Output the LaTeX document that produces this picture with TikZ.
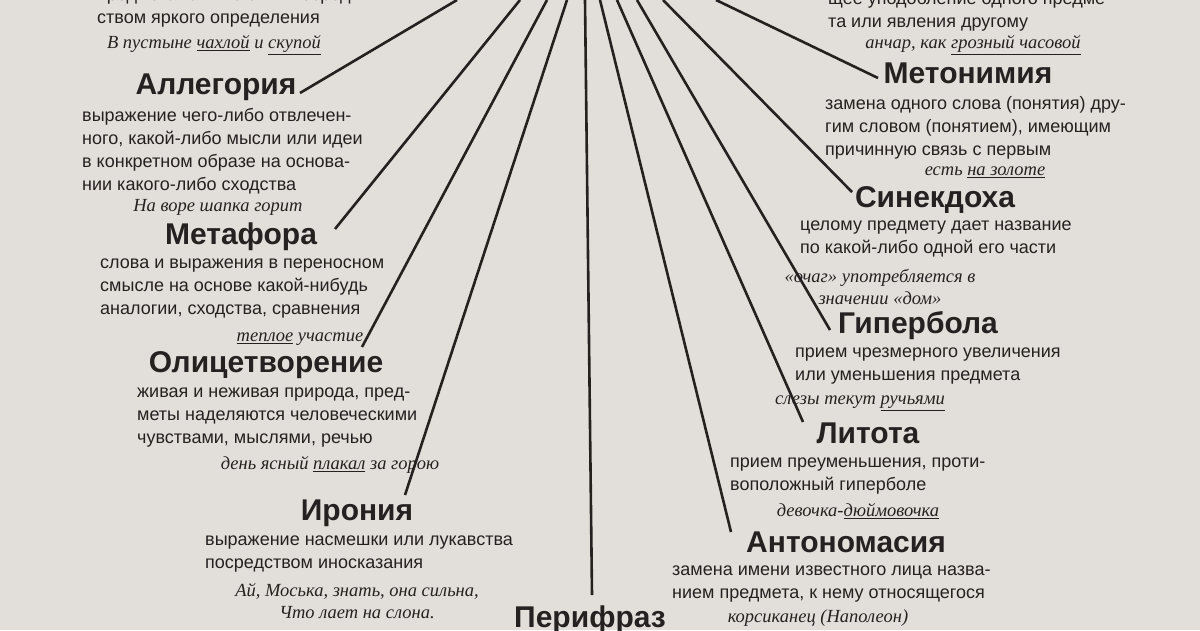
\documentclass[tikz,border=0pt]{standalone}
\usepackage{fontspec}
\setmainfont{Liberation Sans}
\newfontfamily\exfont{Liberation Serif}
\definecolor{paper}{RGB}{226,223,219}
\definecolor{ink}{RGB}{38,33,33}
\begin{document}
\begin{tikzpicture}[x=1pt,y=-1pt,
  ttl/.style={font=\fontsize{30}{30}\selectfont\bfseries,text=ink,inner sep=0},
  dsc/.style={font=\fontsize{18}{23}\selectfont,text=ink,anchor=north west,align=left,inner sep=0},
  ex/.style={font=\exfont\itshape\fontsize{18.5}{22}\selectfont,text=ink,inner sep=0,align=center},
  ray/.style={draw=ink,line width=2.6pt}]
\fill[paper] (0,0) rectangle (1200,630);
\useasboundingbox (0,0) rectangle (1200,630);
% top partial texts
\node[dsc] (epd) at (97,-9) {предмета или явления посред-\\ством яркого определения};
\node[ex] (epx) at (214,45) {В пустыне \underline{чахлой} и \underline{скупой}};
\node[dsc] (srd) at (828,-9) {щее уподобление одного предме-\\та или явления другому};
\node[ex] (srx) at (973,45) {анчар, как \underline{грозный часовой}};
% left column
\node[ttl] (al) at (216,87) {Аллегория};
\node[dsc] (ald) at (82,108) {выражение чего-либо отвлечен-\\ного, какой-либо мысли или идеи\\в конкретном образе на основа-\\нии какого-либо сходства};
\node[ex] (alx) at (218,207) {На воре шапка горит};
\node[ttl] (mf) at (241,237) {Метафора};
\node[dsc] (mfd) at (100,259) {слова и выражения в переносном\\смысле на основе какой-нибудь\\аналогии, сходства, сравнения};
\node[ex] (mfx) at (300,339) {\underline{теплое} участие};
\node[ttl] (ol) at (266,365) {Олицетворение};
\node[dsc] (old) at (137,388) {живая и неживая природа, пред-\\меты наделяются человеческими\\чувствами, мыслями, речью};
\node[ex] (olx) at (330,465) {день ясный \underline{плакал} за горою};
\node[ttl] (ir) at (357,513) {Ирония};
\node[dsc] (ird) at (205,536) {выражение насмешки или лукавства\\посредством иносказания};
\node[ex] (irx) at (357,601) {Ай, Моська, знать, она сильна,\\Что лает на слона.};
\node[ttl] (pf) at (590,620) {Перифраз};
% right column
\node[ttl] (mt) at (968,73) {Метонимия};
\node[dsc] (mtd) at (825,96) {замена одного слова (понятия) дру-\\гим словом (понятием), имеющим\\причинную связь с первым};
\node[ex] (mtx) at (985,172) {есть \underline{на золоте}};
\node[ttl] (sn) at (935,200) {Синекдоха};
\node[dsc] (snd) at (800,221) {целому предмету дает название\\по какой-либо одной его части};
\node[ex] (snx) at (880,287) {«очаг» употребляется в\\значении «дом»};
\node[ttl] (hp) at (918,326) {Гипербола};
\node[dsc] (hpd) at (795,348) {прием чрезмерного увеличения\\или уменьшения предмета};
\node[ex] (hpx) at (860,403) {слезы текут \underline{ручьями}};
\node[ttl] (lt) at (868,433) {Литота};
\node[dsc] (ltd) at (730,458) {прием преуменьшения, проти-\\воположный гиперболе};
\node[ex] (ltx) at (858,511) {девочка-\underline{дюймовочка}};
\node[ttl] (an) at (846,542) {Антономасия};
\node[dsc] (and) at (672,566) {замена имени известного лица назва-\\нием предмета, к нему относящегося};
\node[ex] (anx) at (818,618) {корсиканец (Наполеон)};
% rays
\coordinate (t1) at (457,0); \coordinate (e1) at (300,93);
\coordinate (t2) at (520,0); \coordinate (e2) at (335,229);
\coordinate (t3) at (547,0); \coordinate (e3) at (362,347);
\coordinate (t4) at (567,0); \coordinate (e4) at (405,495);
\coordinate (t5) at (585,0); \coordinate (e5) at (592,595);
\coordinate (t6) at (600,0); \coordinate (e6) at (731,532);
\coordinate (t7) at (617,0); \coordinate (e7) at (803,422);
\coordinate (t8) at (637,0); \coordinate (e8) at (830,330);
\coordinate (t9) at (663,0); \coordinate (e9) at (852,192);
\coordinate (t10) at (716,0); \coordinate (e10) at (878,78);
\foreach \i in {1,...,10} \draw[ray] (t\i) -- (e\i);
\end{tikzpicture}
\end{document}
